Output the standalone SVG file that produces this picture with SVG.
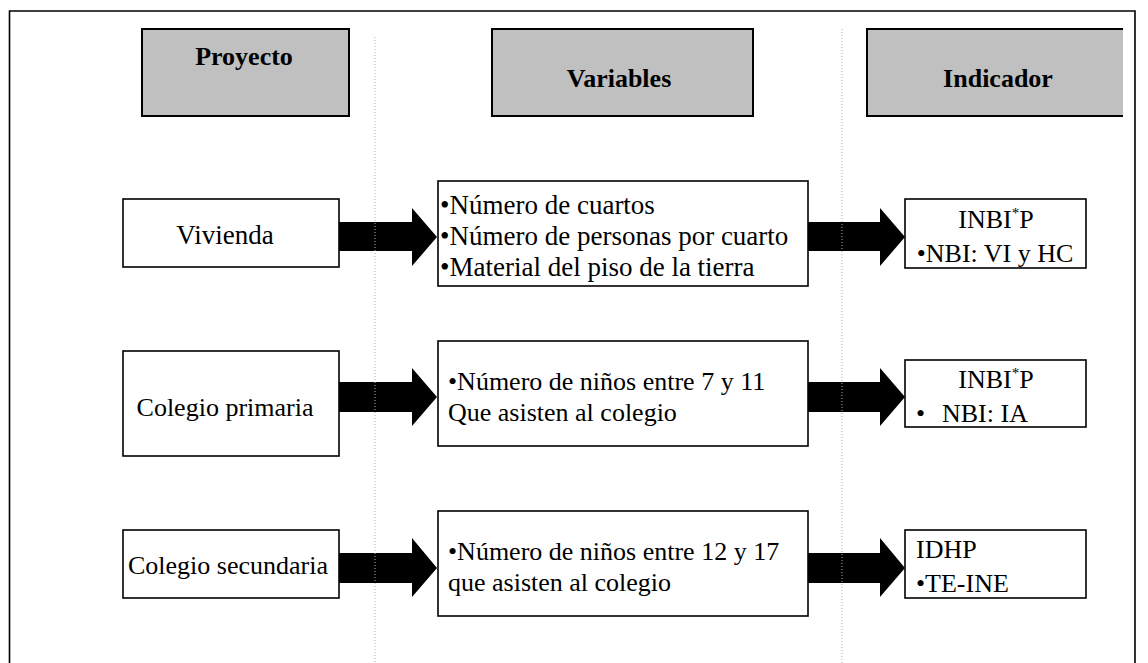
<svg xmlns="http://www.w3.org/2000/svg" width="1148" height="663" viewBox="0 0 1148 663">
<style>
text{font-family:"Liberation Serif","Times New Roman",serif;font-size:26px;fill:#000}
.h{font-weight:bold}
.big{font-size:27px}
.hdr{fill:#c0c0c0;stroke:#000;stroke-width:2}
.box{fill:#fff;stroke:#000;stroke-width:1.6}
.arr{fill:#000}
.dot{stroke:#b0b0b0;stroke-width:1;stroke-dasharray:1 2;fill:none}
.sup{font-size:15px}
</style>
<rect x="0" y="0" width="1148" height="663" fill="#fff"/>
<path d="M9.5,663 V11 H1135 V663" fill="none" stroke="#000" stroke-width="1.6"/>

<g id="hdr-proyecto">
<rect class="hdr" x="142" y="29" width="207" height="87"/>
<text class="h" x="244" y="65" text-anchor="middle">Proyecto</text>
</g>
<g id="hdr-variables">
<rect class="hdr" x="492" y="29" width="261" height="87"/>
<text class="h" x="619" y="87" text-anchor="middle">Variables</text>
</g>
<g id="hdr-indicador">
<rect x="867" y="29" width="256" height="87" fill="#c0c0c0"/>
<path d="M1123,29 H867 V116 H1123" fill="none" stroke="#000" stroke-width="2"/>
<text class="h" x="998" y="87" text-anchor="middle">Indicador</text>
</g>

<g id="connectors">
<polygon class="arr" points="337,222 412,222 412,208 437,237 412,266 412,251 337,251"/>
<polygon class="arr" points="804,222 880,222 880,208 905,237 880,266 880,251 804,251"/>
<polygon class="arr" points="337,382 412,382 412,368 437,397 412,426 412,412 337,412"/>
<polygon class="arr" points="804,382 880,382 880,368 905,397 880,426 880,412 804,412"/>
<polygon class="arr" points="337,553 412,553 412,538 437,568 412,597 412,583 337,583"/>
<polygon class="arr" points="804,553 880,553 880,538 905,568 880,597 880,583 804,583"/>
</g>

<g id="row1-proyecto">
<rect class="box" x="123" y="199" width="216" height="68"/>
<text class="big" x="225" y="244" text-anchor="middle">Vivienda</text>
</g>
<g id="row1-variables">
<rect class="box" x="438" y="181" width="370" height="105"/>
<text class="big" x="440" y="214">•Número de cuartos</text>
<text class="big" x="440" y="245">•Número de personas por cuarto</text>
<text class="big" x="440" y="276">•Material del piso de la tierra</text>
</g>
<g id="row1-indicador">
<rect class="box" x="905" y="199" width="181" height="69"/>
<text x="996" y="228" text-anchor="middle">INBI<tspan class="sup" dy="-10">*</tspan><tspan dy="10">P</tspan></text>
<text x="995" y="262" text-anchor="middle">•NBI: VI y HC</text>
</g>

<g id="row2-proyecto">
<rect class="box" x="123" y="351" width="216" height="105"/>
<text x="225" y="416" text-anchor="middle">Colegio primaria</text>
</g>
<g id="row2-variables">
<rect class="box" x="438" y="341" width="370" height="105"/>
<text x="448" y="390">•Número de niños entre 7 y 11</text>
<text x="448" y="421">Que asisten al colegio</text>
</g>
<g id="row2-indicador">
<rect class="box" x="905" y="360" width="181" height="67"/>
<text x="996" y="388" text-anchor="middle">INBI<tspan class="sup" dy="-10">*</tspan><tspan dy="10">P</tspan></text>
<text y="422"><tspan x="916">•</tspan><tspan x="942">NBI: IA</tspan></text>
</g>

<g id="row3-proyecto">
<rect class="box" x="123" y="530" width="216" height="68"/>
<text x="228" y="574" text-anchor="middle">Colegio secundaria</text>
</g>
<g id="row3-variables">
<rect class="box" x="438" y="511" width="370" height="105"/>
<text x="448" y="560">•Número de niños entre 12 y 17</text>
<text x="448" y="591">que asisten al colegio</text>
</g>
<g id="row3-indicador">
<rect class="box" x="905" y="530" width="181" height="68"/>
<text x="916" y="558">IDHP</text>
<text x="916" y="592">•TE-INE</text>
</g>

<g id="guides">
<line class="dot" x1="375" y1="37" x2="375" y2="663"/>
<line class="dot" x1="842" y1="29" x2="842" y2="663"/>
</g>
</svg>
